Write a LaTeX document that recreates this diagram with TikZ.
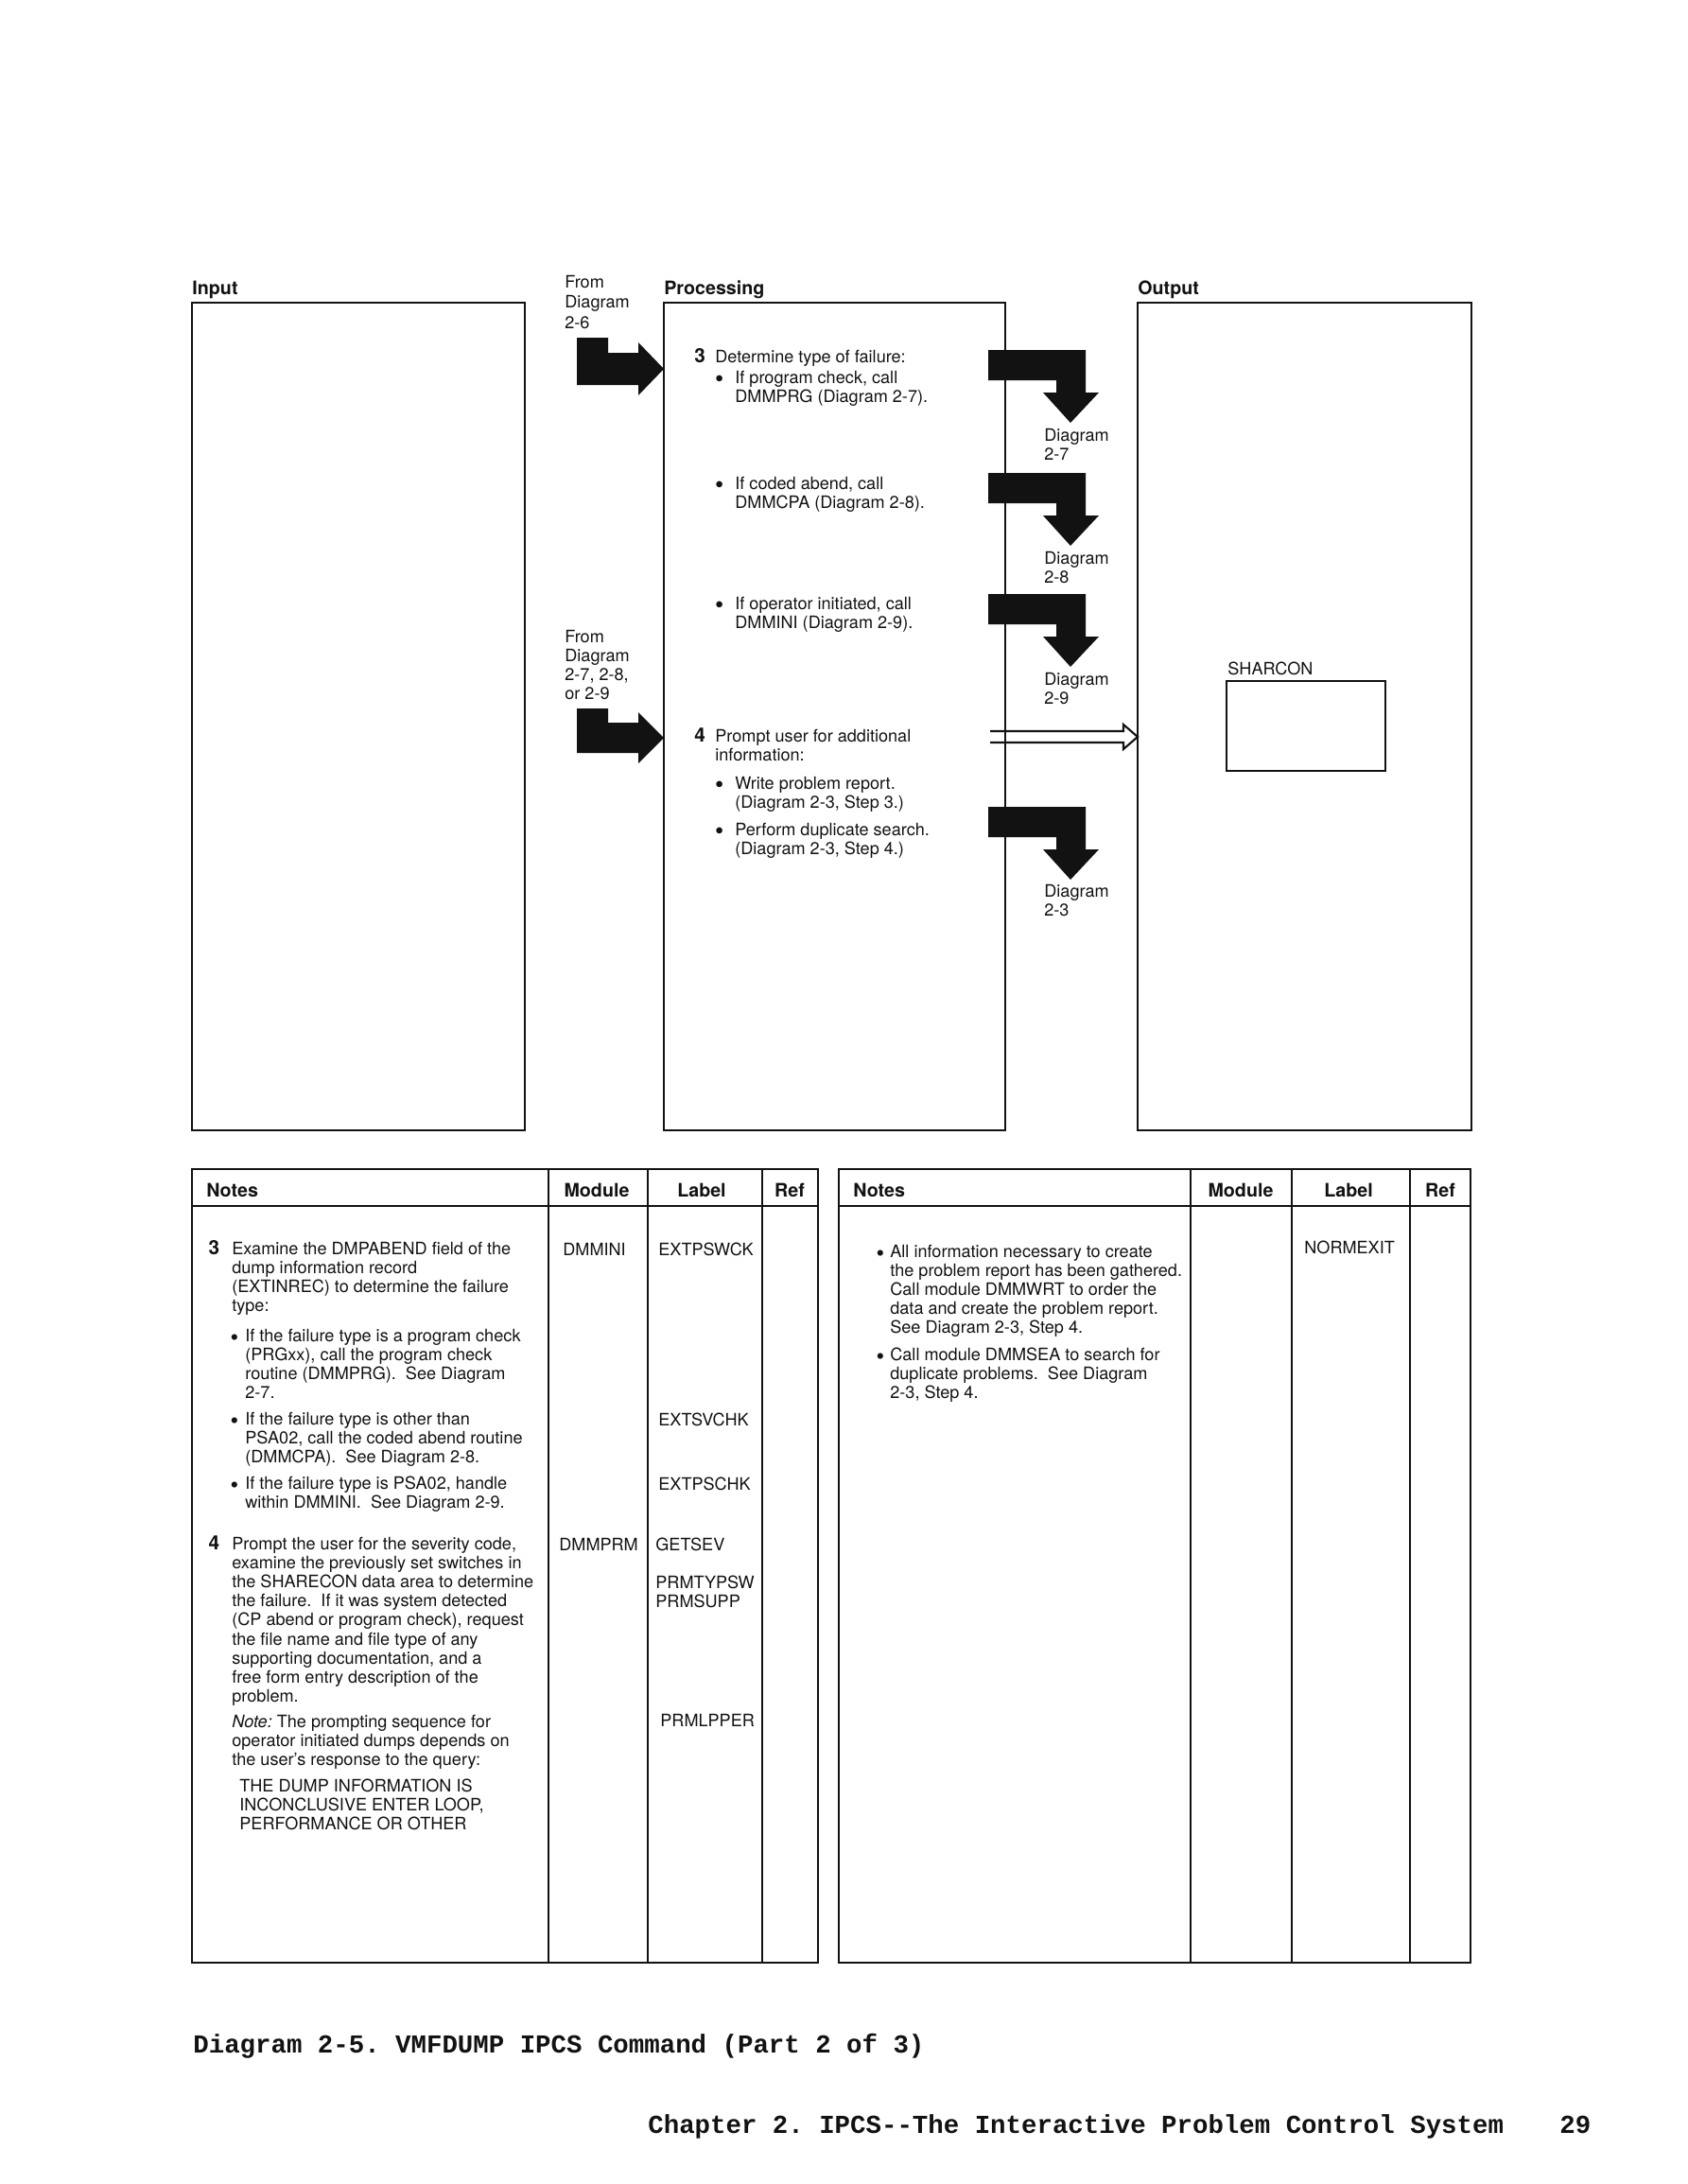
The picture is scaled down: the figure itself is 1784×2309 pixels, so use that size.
\documentclass[tikz,border=0pt]{standalone}
\usepackage{fontspec}
\setmainfont{TeX Gyre Heros}
\newfontfamily\capfont{Liberation Mono}
\usetikzlibrary{calc}
\definecolor{ink}{HTML}{121212}
\frenchspacing

\tikzset{
  frame/.style={draw=ink,line width=1.5pt},
  rule/.style={draw=ink,line width=1.3pt},
  txt/.style={anchor=base west,inner sep=0pt,text=ink,font=\fontsize{10.3}{11.5}\selectfont},
  hdr/.style={anchor=base west,inner sep=0pt,text=ink,font=\fontsize{11.2}{12}\selectfont\bfseries},
  captxt/.style={anchor=base west,inner sep=0pt,text=ink,font=\capfont\bfseries\fontsize{15.6}{16}\selectfont},
  dblarr/.style={draw=ink,line width=1.2pt,line join=miter},
}
\newcommand{\txtrows}[1]{\begin{tabular}[t]{@{}l@{}}#1\end{tabular}}
\newcommand{\pbul}{\llap{\raisebox{-2.7pt}{\fontsize{15}{15}\selectfont\textbullet}\hspace{6.9pt}}}
\newcommand{\nbul}[1]{\llap{\raisebox{-2.3pt}{\fontsize{14}{14}\selectfont\textbullet}\hspace{#1}}}
\newcommand{\stepno}[2]{\llap{\fontsize{11.8}{11.8}\selectfont\bfseries #1\hspace{#2}}}

\begin{document}
\begin{tikzpicture}[x=0.2mm,y=-0.2mm]
\useasboundingbox (0,0) rectangle (1784,2309);

\node[hdr] (hinput) at (203,311) {Input};
\node[hdr] (hproc) at (702,311) {Processing};
\node[hdr] (houtput) at (1203,311) {Output};
\draw[frame] (203,320) rectangle (555,1195);
\draw[frame] (702,320) rectangle (1063,1195);
\draw[frame] (1203,320) rectangle (1556,1195);
\coordinate (outNW) at (1203,320);

\node[txt,font=\fontsize{10.3}{12.4}\selectfont] (from1) at (597,304) {\txtrows{From\\Diagram\\2-6}};
\node[txt] (from2) at (597,679) {\txtrows{From\\Diagram\\2-7, 2-8,\\or 2-9}};
\fill[ink,shift={(610,357)}] (0,0)--(33,0)--(33,16)--(65,16)--(65,5)--(92,33)--(65,61)--(65,50)--(0,50)--cycle;
\fill[ink,shift={(610,749)}] (0,0)--(33,0)--(33,15)--(65,15)--(65,4)--(92,31)--(65,58)--(65,47)--(0,47)--cycle;

\node[txt] (p3) at (756,383) {\stepno{3}{6pt}Determine type of failure:};
\node[txt] (pb1) at (777,405) {\txtrows{\pbul If program check, call\\DMMPRG (Diagram 2-7).}};
\node[txt] (pb2) at (777,517) {\txtrows{\pbul If coded abend, call\\DMMCPA (Diagram 2-8).}};
\node[txt] (pb3) at (777,644) {\txtrows{\pbul If operator initiated, call\\DMMINI (Diagram 2-9).}};
\node[txt] (p4) at (756,784) {\txtrows{\stepno{4}{6pt}Prompt user for additional\\information:}};
\node[txt] (pb4) at (777,834) {\txtrows{\pbul Write problem report.\\(Diagram 2-3, Step 3.)}};
\node[txt] (pb5) at (777,883) {\txtrows{\pbul Perform duplicate search.\\(Diagram 2-3, Step 4.)}};

\fill[ink,shift={(1045,370)}] (0,0)--(103,0)--(103,45)--(117,45)--(87,77)--(58,45)--(72,45)--(72,32)--(0,32)--cycle;
\fill[ink,shift={(1045,500)}] (0,0)--(103,0)--(103,45)--(117,45)--(87,77)--(58,45)--(72,45)--(72,32)--(0,32)--cycle;
\fill[ink,shift={(1045,628)}] (0,0)--(103,0)--(103,45)--(117,45)--(87,77)--(58,45)--(72,45)--(72,32)--(0,32)--cycle;
\fill[ink,shift={(1045,853)}] (0,0)--(103,0)--(103,45)--(117,45)--(87,77)--(58,45)--(72,45)--(72,32)--(0,32)--cycle;
\node[txt] (d27) at (1104,466) {\txtrows{Diagram\\2-7}};
\node[txt] (d28) at (1104,596) {\txtrows{Diagram\\2-8}};
\node[txt] (d29) at (1104,724) {\txtrows{Diagram\\2-9}};
\node[txt] (d23) at (1104,948) {\txtrows{Diagram\\2-3}};

\coordinate (dblA) at (1047,779); \coordinate (dblB) at (dblA -| outNW);
\draw[dblarr] ($(dblA)+(0,-6)$) -- ($(dblB)+(-15,-6)$) -- ($(dblB)+(-15,-13)$) -- (dblB)
  -- ($(dblB)+(-15,13)$) -- ($(dblB)+(-15,6)$) -- ($(dblA)+(0,6)$);

\node[txt] (sharcon) at (1298,713) {SHARCON};
\draw[frame] (1297,720) rectangle (1465,815);

\draw[frame] (203,1236) rectangle (865,2075); \draw[frame] (203,1275) -- (865,1275);
\draw[rule] (580,1236)--(580,2075) (685,1236)--(685,2075) (806,1236)--(806,2075);
\node[hdr] (notes1) at (218,1265) {Notes};
\node[hdr,anchor=base] (module1) at (631,1265) {Module};
\node[hdr,anchor=base] (label1) at (742,1265) {Label};
\node[hdr,anchor=base] (ref1) at (835,1265) {Ref};

\node[txt] (n3) at (245,1326) {\txtrows{\stepno{3}{7.5pt}Examine the DMPABEND field of the\\dump information record\\(EXTINREC) to determine the failure\\type:}};
\node[txt] (n3a) at (259,1418) {\txtrows{\nbul{4.1pt}If the failure type is a program check\\(PRGxx), call the program check\\routine (DMMPRG).\ \ See Diagram\\2-7.}};
\node[txt] (n3b) at (259,1506) {\txtrows{\nbul{4.1pt}If the failure type is other than\\PSA02, call the coded abend routine\\(DMMCPA).\ \ See Diagram 2-8.}};
\node[txt] (n3c) at (259,1574) {\txtrows{\nbul{4.1pt}If the failure type is PSA02, handle\\within DMMINI.\ \ See Diagram 2-9.}};
\node[txt] (n4) at (245,1638) {\txtrows{\stepno{4}{7.5pt}Prompt the user for the severity code,\\examine the previously set switches in\\the SHARECON data area to determine\\the failure.\ \ If it was system detected\\(CP abend or program check), request\\the file name and file type of any\\supporting documentation, and a\\free form entry description of the\\problem.}};
\node[txt] (nnote) at (245,1826) {\txtrows{\textit{Note:} The prompting sequence for\\operator initiated dumps depends on\\the user's response to the query:}};
\node[txt] (ndump) at (253,1894) {\txtrows{THE DUMP INFORMATION IS\\INCONCLUSIVE ENTER LOOP,\\PERFORMANCE OR OTHER}};
\node[txt] (mod1) at (595,1327) {DMMINI};
\node[txt] (mod2) at (591,1639) {DMMPRM};
\node[txt] (lab1) at (696,1327) {EXTPSWCK};
\node[txt] (lab2) at (696,1507) {EXTSVCHK};
\node[txt] (lab3) at (696,1575) {EXTPSCHK};
\node[txt] (lab4) at (693,1639) {GETSEV};
\node[txt] (lab5) at (693,1679) {\txtrows{PRMTYPSW\\PRMSUPP}};
\node[txt] (lab6) at (698,1825) {PRMLPPER};

\draw[frame] (887,1236) rectangle (1555,2075); \draw[frame] (887,1275) -- (1555,1275);
\draw[rule] (1259,1236)--(1259,2075) (1366,1236)--(1366,2075) (1491,1236)--(1491,2075);
\node[hdr] (notes2) at (902,1265) {Notes};
\node[hdr,anchor=base] (module2) at (1312,1265) {Module};
\node[hdr,anchor=base] (label2) at (1426,1265) {Label};
\node[hdr,anchor=base] (ref2) at (1523,1265) {Ref};
\node[txt] (r1) at (941,1329) {\txtrows{\nbul{3.5pt}All information necessary to create\\the problem report has been gathered.\\Call module DMMWRT to order the\\data and create the problem report.\\See Diagram 2-3, Step 4.}};
\node[txt] (r2) at (941,1438) {\txtrows{\nbul{3.5pt}Call module DMMSEA to search for\\duplicate problems.\ \ See Diagram\\2-3, Step 4.}};
\node[txt] (rlab) at (1379,1325) {NORMEXIT};

\node[captxt] (caption) at (204,2170) {Diagram 2-5. VMFDUMP IPCS Command (Part 2 of 3)};
\node[captxt] (footer) at (685,2255) {Chapter 2. IPCS-\kern0pt-The Interactive Problem Control System};
\node[captxt] (page) at (1649,2255) {29};
\end{tikzpicture}
\end{document}
